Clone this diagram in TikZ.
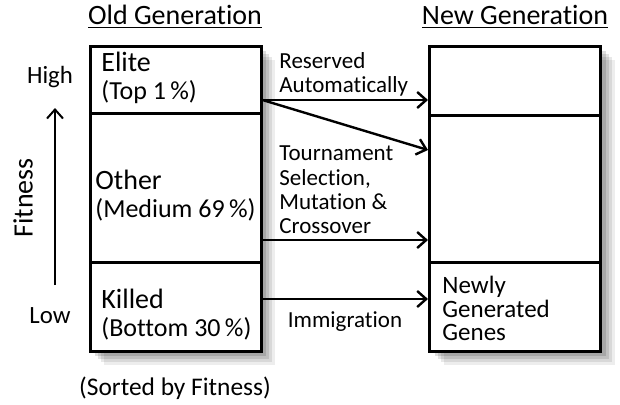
\documentclass[tikz,border=0pt]{standalone}
\usepackage{fontspec}
\setmainfont{Carlito}[Ligatures=NoCommon]
\usetikzlibrary{arrows.meta,positioning,calc,shadows}
\tikzset{
  cell/.style       = {draw=black, line width=1.5pt, fill=white, minimum width=85.5pt,
                       inner sep=0pt, anchor=center,
                       drop shadow={shadow xshift=7pt, shadow yshift=-7pt, fill=black, opacity=.07},
                       drop shadow={shadow xshift=5.5pt, shadow yshift=-5.5pt, fill=black, opacity=.09},
                       drop shadow={shadow xshift=4pt, shadow yshift=-4pt, fill=black, opacity=.11},
                       drop shadow={shadow xshift=2.5pt, shadow yshift=-2.5pt, fill=black, opacity=.13}},
  celltxt/.style    = {anchor=west, inner sep=0pt, align=left, font=\fontsize{13}{14}\selectfont},
  flow/.style       = {-{Straight Barb[length=4.5pt, width=8pt]}, line width=1.2pt},
  title/.style      = {font=\fontsize{14}{16}\selectfont, inner sep=0pt},
  lbl/.style        = {font=\fontsize{11.5}{12.2}\selectfont, inner sep=0pt, align=left},
  side/.style       = {font=\fontsize{12.4}{14}\selectfont, inner sep=0pt},
}
\newcommand{\cellname}[1]{{\fontsize{14}{14}\selectfont #1}}

\begin{document}
\begin{tikzpicture}[x=0.5pt, y=0.5pt]
  \useasboundingbox (0,0) rectangle (620,404);
  % old generation
  \node[title] (oldtitle) at (175,387) {\underline{Old Generation}};
  \node[cell, minimum height=33.5pt] (elite) at (175.5,324.5) {};
  \node[cell, minimum height=74.5pt] (other) at (175.5,216.5) {};
  \node[cell, minimum height=44.5pt] (killed) at (175.5,97.5) {};
  \node[celltxt] (elitetxt) at (101,326) {\cellname{Elite}\\(Top 1\,\%)};
  \node[celltxt] (othertxt) at (95,208.5) {\cellname{Other}\\(Medium 69\,\%)};
  \node[celltxt] (killedtxt) at (101,89) {\cellname{Killed}\\(Bottom 30\,\%)};
  \node[side, font=\fontsize{12.7}{14}\selectfont] (sorted) at (175,16) {(Sorted by Fitness)};
  % new generation
  \node[title] (newtitle) at (515,387) {\underline{New Generation}};
  \node[cell, minimum height=34.5pt] (newtop) at (515,323.5) {};
  \node[cell, minimum height=73.5pt] (newmid) at (515,215.5) {};
  \node[cell, minimum height=44.5pt] (newbot) at (515,97.5) {};
  \node[celltxt, font=\fontsize{12.5}{11.8}\selectfont] (newbottxt) at (442,95.5)
    {Newly\\Generated\\Genes};
  % fitness axis
  \node[side] (high) at (50,327) {High};
  \node[side] (low) at (50,88) {Low};
  \node[title, rotate=90] (fitness) at (23,206) {Fitness};
  \coordinate (fitlo) at (55,119);
  \coordinate (fithi) at (55,296);
  \draw[-{Straight Barb[length=4.5pt, width=8pt]}, line width=1pt] (fitlo) -- (fithi);
  % transitions
  \draw[flow] ([yshift=-10.25pt]elite.east) -- ([yshift=-10.25pt]elite.east -| newtop.west);
  \draw[flow] ([yshift=-10.25pt]elite.east) -- ([yshift=19.25pt]newmid.west);
  \draw[flow] ([yshift=-26.25pt]other.east) -- ([yshift=-26.25pt]other.east -| newmid.west);
  \draw[flow] ([yshift=3.75pt]killed.east) -- ([yshift=3.75pt]killed.east -| newbot.west);
  \node[lbl, anchor=west] (reserved) at (279,329.5) {Reserved\\Automatically};
  \node[lbl, anchor=west] (tourn) at (279,214) {Tournament\\Selection,\\Mutation \&\\Crossover};
  \node[lbl] (immig) at (345,82) {Immigration};
\end{tikzpicture}
\end{document}
